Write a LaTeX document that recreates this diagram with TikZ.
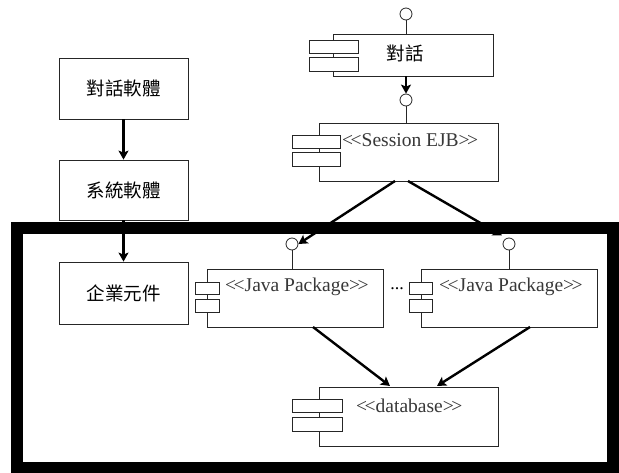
\documentclass[tikz,border=0pt]{standalone}
\usepackage{fontspec}
\setmainfont{Liberation Serif}
\newfontfamily\cjk{Noto Sans CJK TC}
\usetikzlibrary{arrows.meta}

% stereotype brackets, kept apart so they do not merge into guillemets
\newcommand{\stl}{\mbox{<}\kern-2.5pt\mbox{<}}
\newcommand{\str}{\mbox{>}\kern-2.5pt\mbox{>}}

\begin{document}
\begin{tikzpicture}[x=1pt,y=-1pt,
  box/.style={draw=black!85, line width=0.8pt, fill=white, inner sep=0pt},
  tab/.style={draw=black!85, line width=0.8pt, fill=white, inner sep=0pt},
  lolly/.style={draw=black!85, line width=0.8pt, fill=white, circle, inner sep=0pt, minimum size=12pt},
  wire/.style={draw=black!85, line width=0.8pt},
  conn/.style={line width=2.4pt, -{Stealth[length=9pt,width=10pt,inset=2pt]}},
  zh/.style={font=\cjk\fontsize{18.5}{21}\selectfont},
  lbl/.style={font=\fontsize{19.5}{22}\selectfont, text=black!78, inner sep=0pt, anchor=west}]
\useasboundingbox (0,0) rectangle (619,473);

% ---- layer column on the left ----
\node[box, minimum width=129pt, minimum height=61pt, zh] (b1) at (123.5,88.5) {對話軟體};
\node[box, minimum width=129pt, minimum height=60pt, zh] (b2) at (123.5,190) {系統軟體};
\node[box, minimum width=129pt, minimum height=62pt, zh] (b3) at (123.5,293) {企業元件};
\draw[conn] (b1.south) -- (b2.north);
\draw[conn] (b2.south) -- (b3.north);

% ---- dialog component ----
\node[box, minimum width=160pt, minimum height=42pt] (c1) at (413,55) {};
\node[zh, inner sep=0pt] (c1t) at (405,53) {對話};
\node[tab, minimum width=49pt, minimum height=13pt] (c1a) at (333.5,46.5) {};
\node[tab, minimum width=49pt, minimum height=14pt] (c1b) at (333.5,64) {};
\node[lolly] (c1p) at (406,14) {};
\draw[wire] (c1p.south) -- (c1p.south |- c1.north);

% ---- session bean component ----
\node[box, minimum width=179pt, minimum height=58pt] (c2) at (408.5,152) {};
\node[tab, minimum width=48pt, minimum height=13pt] (c2a) at (316,141.5) {};
\node[tab, minimum width=48pt, minimum height=14pt] (c2b) at (316,159) {};
\node[lbl] (c2t) at (342,140) {\stl Session EJB\str};
\node[lolly] (c2p) at (406,100) {};
\draw[wire] (c2p.south) -- (c2p.south |- c2.north);
\draw[conn] (c1p.south |- c1.south) -- (c2p.north);

% ---- java packages ----
\node[box, minimum width=176pt, minimum height=58pt] (j1) at (295,298) {};
\node[tab, minimum width=24pt, minimum height=12pt] (j1a) at (207,288) {};
\node[tab, minimum width=24pt, minimum height=13pt] (j1b) at (207,305.5) {};
\node[lbl] (j1t) at (225,287) {\stl Java Package\str};
\node[lolly] (j1p) at (292,244) {};
\draw[wire] (j1p.south) -- (j1p.south |- j1.north);

\node[box, minimum width=176pt, minimum height=58pt] (j2) at (509,298) {};
\node[tab, minimum width=23pt, minimum height=12pt] (j2a) at (420.5,288) {};
\node[tab, minimum width=23pt, minimum height=13pt] (j2b) at (420.5,305.5) {};
\node[lbl] (j2t) at (439,287) {\stl Java Package\str};
\node[lolly] (j2p) at (509,244) {};
\draw[wire] (j2p.south) -- (j2p.south |- j2.north);

\node[font=\fontsize{18}{20}\selectfont, inner sep=0pt] (dots) at (397,289) {...};

% ---- database ----
\node[box, minimum width=179pt, minimum height=59pt] (db) at (408.5,416.5) {};
\node[tab, minimum width=50pt, minimum height=13pt] (dba) at (317,405.5) {};
\node[tab, minimum width=50pt, minimum height=14pt] (dbb) at (317,424) {};
\node[lbl] (dbt) at (356,406) {\stl database\str};

% ---- dependencies ----
\coordinate (s1) at (395,181);
\coordinate (s2) at (408,181);
\coordinate (e2) at (502,235.5);
\coordinate (p1) at (313,327);
\coordinate (p2) at (530,327);
\coordinate (d1) at (390,386);
\coordinate (d2) at (437,386);
\draw[conn] (s1) -- (j1p.east);
\draw[conn] (s2) -- (e2);
\draw[conn] (p1) -- (d1);
\draw[conn] (p2) -- (d2);

% ---- enterprise boundary ----
\draw[line width=12pt] (17,228) rectangle (612.5,467.5);
\end{tikzpicture}
\end{document}
